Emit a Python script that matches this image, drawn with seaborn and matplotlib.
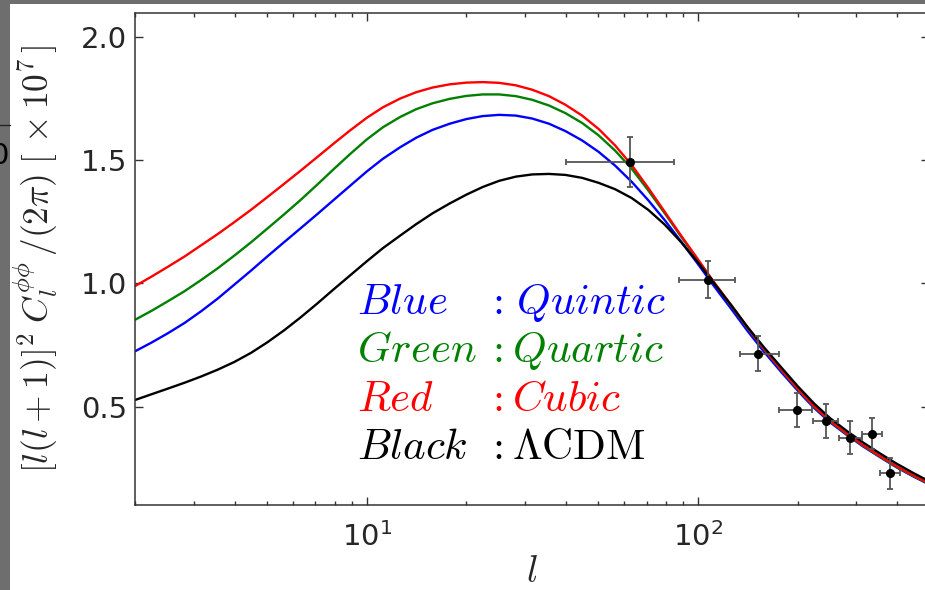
import matplotlib
matplotlib.use("Agg")
import numpy as np
import pandas as pd
import matplotlib.pyplot as plt
import seaborn as sns
from matplotlib.lines import Line2D
from matplotlib.patches import Rectangle
from matplotlib.ticker import FixedLocator, FormatStrFormatter, NullFormatter

# Multipoles at which the model curves are tabulated
ell = [2, 2.24, 2.51, 2.82, 3.16, 3.55, 3.98, 4.47, 5.01, 5.62, 6.31, 7.08,
       7.94, 8.91, 10, 11.2, 12.6, 14.1, 15.8, 17.8, 20, 22.4, 25.1, 28.2,
       31.6, 35.5, 39.8, 44.7, 50.1, 56.2, 63.1, 70.8, 79.4, 89.1, 100, 112,
       126, 141, 158, 178, 200, 224, 251, 282, 316, 355, 398, 447, 500]

# Lensing potential power [l(l+1)]^2 C_l / 2pi  (x 1e7) for each model
quintic = [0.725, 0.760, 0.798, 0.840, 0.887, 0.939, 0.995, 1.052, 1.110, 1.167,
           1.224, 1.281, 1.339, 1.397, 1.455, 1.507, 1.553, 1.592, 1.624, 1.649,
           1.668, 1.680, 1.685, 1.682, 1.670, 1.649, 1.619, 1.581, 1.535, 1.479,
           1.413, 1.338, 1.257, 1.169, 1.079, 0.988, 0.897, 0.808, 0.724, 0.642,
           0.565, 0.495, 0.435, 0.384, 0.337, 0.294, 0.253, 0.216, 0.183]
quartic = [0.853, 0.889, 0.928, 0.969, 1.014, 1.062, 1.113, 1.167, 1.223, 1.280,
           1.339, 1.401, 1.464, 1.526, 1.585, 1.635, 1.676, 1.708, 1.732, 1.750,
           1.762, 1.768, 1.768, 1.761, 1.746, 1.723, 1.692, 1.652, 1.602, 1.540,
           1.466, 1.378, 1.285, 1.189, 1.095, 1.001, 0.909, 0.820, 0.734, 0.650,
           0.571, 0.500, 0.439, 0.387, 0.340, 0.296, 0.255, 0.218, 0.185]
cubic = [0.990, 1.028, 1.068, 1.110, 1.155, 1.201, 1.249, 1.299, 1.351, 1.404,
         1.458, 1.513, 1.568, 1.622, 1.673, 1.716, 1.751, 1.777, 1.796, 1.809,
         1.816, 1.818, 1.815, 1.805, 1.787, 1.761, 1.726, 1.682, 1.628, 1.561,
         1.481, 1.388, 1.291, 1.193, 1.098, 1.004, 0.912, 0.822, 0.736, 0.652,
         0.573, 0.502, 0.441, 0.389, 0.342, 0.298, 0.257, 0.220, 0.187]
lcdm = [0.527, 0.550, 0.573, 0.597, 0.622, 0.650, 0.681, 0.718, 0.761, 0.809,
        0.862, 0.918, 0.976, 1.033, 1.090, 1.144, 1.194, 1.241, 1.285, 1.325,
        1.361, 1.392, 1.417, 1.434, 1.443, 1.445, 1.441, 1.429, 1.409, 1.383,
        1.347, 1.299, 1.239, 1.167, 1.086, 1.000, 0.912, 0.824, 0.742, 0.661,
        0.583, 0.513, 0.452, 0.400, 0.353, 0.309, 0.268, 0.230, 0.196]

# Binned band powers with bin edges and 1-sigma errors
bin_ell = [62.3, 107.0, 151.6, 199.0, 243.6, 287.8, 335.6, 380.0]
bin_lo = [39.9, 87.8, 133.8, 175.7, 222.0, 266.8, 312.8, 354.9]
bin_hi = [84.5, 129.4, 175.7, 221.0, 264.9, 312.8, 359.7, 407.0]
bin_val = [1.493, 1.016, 0.715, 0.484, 0.443, 0.374, 0.390, 0.228]
bin_err = [0.100, 0.077, 0.070, 0.069, 0.069, 0.068, 0.062, 0.061]

models = ["Quintic", "Quartic", "Cubic", "LCDM"]
palette = {"Quintic": "#0000ff", "Quartic": "#008000",
           "Cubic": "#ff0000", "LCDM": "#000000"}

df = pd.DataFrame({
    "ell": ell * 4,
    "power": quintic + quartic + cubic + lcdm,
    "model": sum([[m] * len(ell) for m in models], []),
})

sns.set_style("ticks", {"xtick.direction": "in", "ytick.direction": "in"})
plt.rcParams["font.family"] = ["DejaVu Sans"]

W, H = 925, 590
fig = plt.figure(figsize=(W / 100, H / 100), dpi=100)
fig.patch.set_facecolor("white")

# grey window frame along the left and top edges
fig.patches.append(Rectangle((0, 0), 10 / W, 1, transform=fig.transFigure,
                             facecolor="#6e6e6e", edgecolor="none", zorder=0))
fig.patches.append(Rectangle((0, 1 - 4 / H), 1, 4 / H, transform=fig.transFigure,
                             facecolor="#6e6e6e", edgecolor="none", zorder=0))
fig.add_artist(Line2D([0, 10 / W], [1 - 125 / H, 1 - 125 / H],
                      transform=fig.transFigure, color="#222222", lw=1.0))
fig.text(9 / W, 1 - 156 / H, "0", ha="right", va="center", fontsize=21,
         color="black")

ax = fig.add_axes([135.3 / W, 1 - 505 / H, (929.4 - 135.3) / W, (505 - 12.7) / H])

sns.lineplot(data=df, x="ell", y="power", hue="model", hue_order=models,
             palette=palette, estimator=None, sort=True, lw=1.7,
             legend=False, ax=ax, zorder=2)

xerr = [np.array(bin_ell) - np.array(bin_lo), np.array(bin_hi) - np.array(bin_ell)]
ax.errorbar(bin_ell, bin_val, xerr=xerr, yerr=bin_err, fmt="o", color="black",
            ms=5.5, ecolor="#555555", elinewidth=1.3, capsize=2.5,
            capthick=1.3, zorder=3)

ax.set_xscale("log")
ax.set_xlim(2, 500)
ax.set_ylim(0.1, 2.1)
ax.yaxis.set_major_locator(FixedLocator([0.5, 1.0, 1.5, 2.0]))
ax.yaxis.set_major_formatter(FormatStrFormatter("%.1f"))
ax.xaxis.set_minor_formatter(NullFormatter())

ax.tick_params(which="both", direction="in", top=True, right=True,
               color="#333333", width=1.0)
ax.tick_params(which="major", length=6, labelsize=21)
ax.tick_params(which="minor", length=3)
ax.tick_params(axis="x", which="major", pad=12)
ax.tick_params(axis="y", which="major", pad=6)
for sp in ax.spines.values():
    sp.set_linewidth(1.1)
    sp.set_color("#333333")

ax.set_xlabel(r"$l$", fontsize=27, math_fontfamily="cm")
ax.xaxis.set_label_coords(0.5, -0.1)
ax.set_ylabel(r"$[l(l+1)]^2\;C_l^{\phi\phi}\,/(2\pi)\;[\,\times 10^7\,]$",
              fontsize=25.5, math_fontfamily="cm")
ax.yaxis.set_label_coords(-0.095, 0.5)

# colour key written as an aligned table
rows = [
    (r"$Blue$", r"$Quintic$", "#0000ff", 314, 516),
    (r"$Green$", r"$Quartic$", "#008000", 362, 512),
    (r"$Red$", r"$Cubic$", "#ff0000", 411, 512),
    (r"$Black$", r"$\Lambda\mathrm{CDM}$", "#000000", 459, 512),
]
for name, model, col, yb, xv in rows:
    fig.text(357 / W, 1 - yb / H, name, color=col, fontsize=31,
             ha="left", va="baseline", math_fontfamily="cm")
    fig.text(494 / W, 1 - yb / H, r"$:$", color=col, fontsize=31,
             ha="center", va="baseline", math_fontfamily="cm")
    fig.text(xv / W, 1 - yb / H, model, color=col, fontsize=31,
             ha="left", va="baseline", math_fontfamily="cm")

fig.savefig("out.png", dpi=100)
